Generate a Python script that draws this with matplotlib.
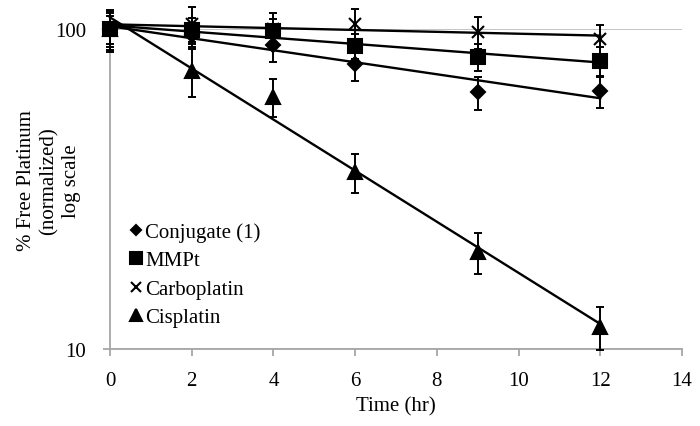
import numpy as np
import matplotlib
matplotlib.use("Agg")
import matplotlib.pyplot as plt
from matplotlib.ticker import FixedLocator, NullLocator, FixedFormatter

plt.rcParams['font.family'] = ['Liberation Serif', 'DejaVu Serif']
plt.rcParams['font.size'] = 15

time = [0, 2, 4, 6, 9, 12]

conjugate = [100, 96, 89, 78, 63.5, 64]
conjugate_err = [12, 8, 10, 9, 7.5, 7.5]

mmpt = [100, 99, 98.6, 88.5, 81.7, 79.4]
mmpt_err = [10, 9, 9, 8, 8, 8.6]

carboplatin = [100, 104, 100, 103.6, 97.7, 93]
carboplatin_err = [15, 13, 12, 12, 11, 10]

cisplatin = [100, 74, 61.5, 35.8, 20.1, 11.7]
cisplatin_err = [14, 12.7, 8.5, 5, 3, 1.8]

labels = ["Conjugate (1)", "MMPt", "Carboplatin", "Cisplatin"]

fig = plt.figure(figsize=(7, 4.27), dpi=100)
ax = fig.add_axes([110 / 700, 1 - 350 / 427, 572 / 700, 320 / 427])

series = [
    (conjugate, conjugate_err, 'D', 7),
    (mmpt, mmpt_err, 's', 10),
    (carboplatin, carboplatin_err, 'x', 9),
    (cisplatin, cisplatin_err, '^', 10),
]

handles = []
for (vals, err, mk, ms), lab in zip(series, labels):
    ax.errorbar(time, vals, yerr=err, fmt='none', ecolor='black',
                elinewidth=1.4, capsize=3, capthick=1.4, clip_on=False, zorder=3)
    h, = ax.plot(time, vals, linestyle='none', marker=mk, markersize=ms,
                 color='black', markeredgewidth=1.5, clip_on=False, zorder=4,
                 label=lab)
    handles.append(h)
    # exponential trendline (straight line in log space)
    b, a = np.polyfit(time, np.log(vals), 1)
    xs = np.array([0, 12])
    ax.plot(xs, np.exp(a + b * xs), color='black', linewidth=1.7,
            clip_on=False, zorder=2)

ax.set_yscale('log')
ax.set_ylim(10, 100)
ax.set_xlim(0, 14)
ax.yaxis.set_major_locator(FixedLocator([10, 100]))
ax.yaxis.set_major_formatter(FixedFormatter(['10', '100']))
ax.yaxis.set_minor_locator(NullLocator())
ax.set_xticks(range(0, 15, 2))

ax.grid(axis='y', color='#bfbfbf', linewidth=1.3)
ax.set_axisbelow(True)
for s in ['top', 'right']:
    ax.spines[s].set_visible(False)
for s in ['left', 'bottom']:
    ax.spines[s].set_color('#a6a6a6')
    ax.spines[s].set_linewidth(1.3)
ax.tick_params(axis='both', direction='out', length=5, width=1.3,
               color='#a6a6a6', labelsize=15)
ax.tick_params(axis='x', pad=11)
ax.tick_params(axis='y', pad=12)

ax.set_xlabel("Time (hr)", fontsize=15, labelpad=4)
ax.set_ylabel("% Free Platinum\n(normalized)\nlog scale", fontsize=15,
              linespacing=1.25)
ax.yaxis.set_label_coords(-0.05, 0.528)

ax.legend(handles=handles, loc='upper left', bbox_to_anchor=(119 / 700, 1 - 213 / 427),
          bbox_transform=fig.transFigure, frameon=False, handlelength=0.6,
          handletextpad=0.15, labelspacing=0.42, borderpad=0, fontsize=15,
          markerscale=0.8)

fig.savefig("out.png", dpi=100)
